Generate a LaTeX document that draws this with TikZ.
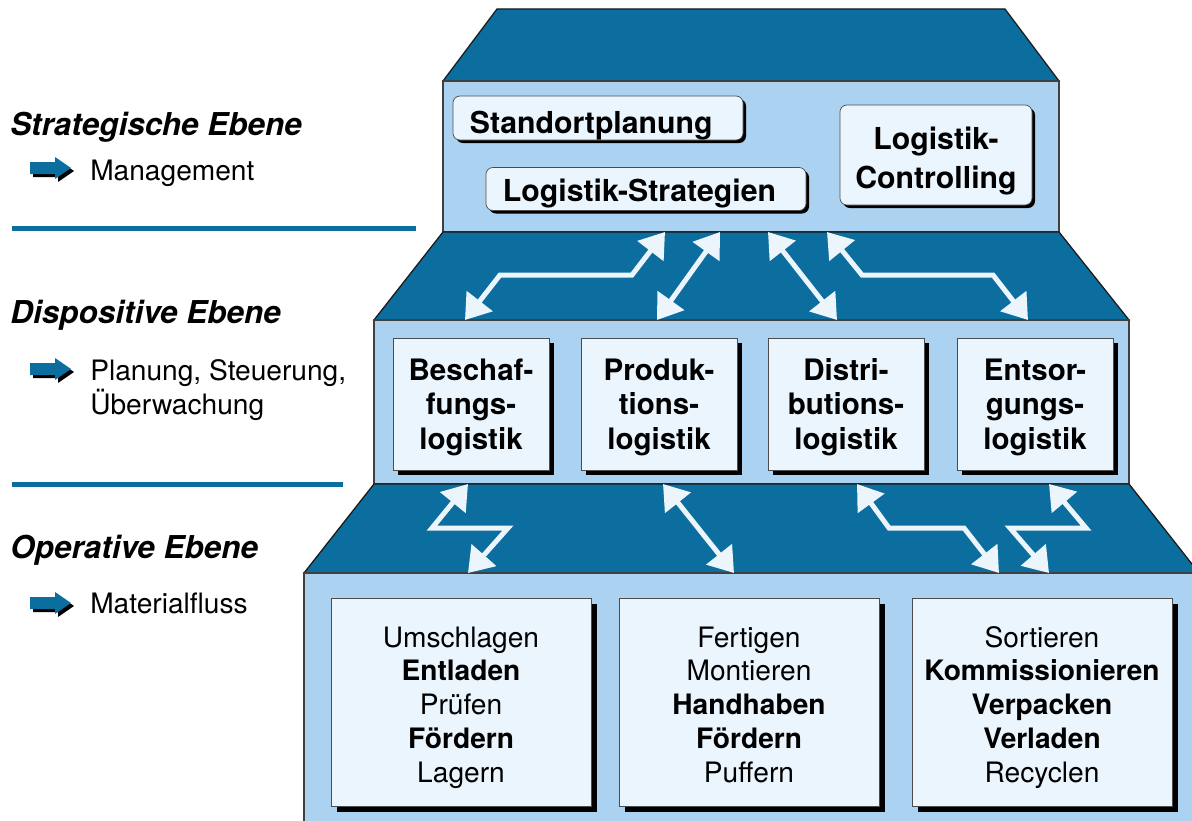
\documentclass[tikz,border=0pt]{standalone}
\usepackage{fontspec}
\setmainfont{TeX Gyre Heros}
\usetikzlibrary{arrows.meta,shadows}

\definecolor{roofblue}{HTML}{0B6E9F}
\definecolor{frontblue}{HTML}{ABD3F1}
\definecolor{boxfill}{HTML}{EBF5FD}
\definecolor{arrowfill}{HTML}{EDF5FC}

\begin{document}
\begin{tikzpicture}[x=0.025cm,y=-0.025cm,
        roof/.style={fill=roofblue,draw=black!90,line width=0.9pt,line join=miter},
        front/.style={fill=frontblue,draw=black!75,line width=0.9pt},
        topbox/.style={rectangle,rounded corners=5pt,fill=boxfill,draw=black!70,line width=0.5pt,
          align=center,font=\fontsize{21.5}{27.5}\selectfont\bfseries,text depth=0pt,
          drop shadow={shadow xshift=0.075cm,shadow yshift=-0.075cm,opacity=1,fill=black}},
        midbox/.style={rectangle,fill=boxfill,draw=black!70,line width=0.5pt,align=center,
          minimum width=3.9cm,minimum height=3.3cm,font=\fontsize{21}{24.5}\selectfont\bfseries,
          text height=2.25cm,text depth=0pt,
          drop shadow={shadow xshift=0.125cm,shadow yshift=-0.125cm,opacity=1,fill=black}},
        opbox/.style={rectangle,fill=boxfill,draw=black!70,line width=0.5pt,align=center,
          minimum width=6.5cm,minimum height=5.2cm,font=\fontsize{20}{24}\selectfont,
          text height=4cm,text depth=0pt,
          drop shadow={shadow xshift=0.15cm,shadow yshift=-0.15cm,opacity=1,fill=black}},
        flowarrow/.style={draw=arrowfill,line width=0.125cm,line join=miter,
          {Triangle[length=0.6cm,width=0.8cm]}-{Triangle[length=0.6cm,width=0.8cm]}},
        levellabel/.style={anchor=base west,inner sep=0,font=\fontsize{22.4}{26}\selectfont\bfseries\itshape},
        leveltext/.style={anchor=base west,inner sep=0,align=left,font=\fontsize{20}{24}\selectfont},
        levelline/.style={draw=roofblue,line width=0.125cm},
        pics/levelarrow/.style={code={
          \foreach \s/\c in {3/black,0/roofblue}
            \fill[\c,shift={(\s,\s)}] (0,-6) -- (25,-6) -- (25,-11) -- (41,0) -- (25,11) -- (25,6) -- (0,6) -- cycle;
        }}]
        \useasboundingbox (0,0) rectangle (1192,821);
        \clip (0,0) rectangle (1192,821);

        % the three levels
        \draw[roof] (497,9) -- (1005,9) -- (1059,81) -- (443,81) -- cycle;
        \draw[front] (443,81) rectangle (1059,232);
        \draw[roof] (443,232) -- (1059,232) -- (1129,320) -- (374,320) -- cycle;
        \draw[front] (374,320) rectangle (1129,484);
        \draw[roof] (374,484) -- (1129,484) -- (1199,573) -- (304,573) -- cycle;
        \draw[front] (304,573) rectangle (1199,830);

        % strategic level
        \node[topbox, align=left, inner xsep=0.425cm, text width=6.4cm, minimum height=1.1cm, text height=0.75cm] (standort) at (598,118) {Standortplanung};
        \node[topbox, align=left, inner xsep=0.425cm, text width=7.15cm, minimum height=1.075cm, text height=0.6cm] (strategie) at (646,189) {Logistik-Strategien};
        \node[topbox, minimum width=4.8cm, minimum height=2.5cm, text height=1.65cm] (controlling) at (936,155) {Logistik-\\Controlling};

        % dispositive level
        \node[midbox] (beschaffung) at (471,404) {Beschaf-\\fungs-\\logistik};
        \node[midbox] (produktion) at (659,404) {Produk-\\tions-\\logistik};
        \node[midbox] (distribution) at (846,404) {Distri-\\butions-\\logistik};
        \node[midbox] (entsorgung) at (1035,404) {Entsor-\\gungs-\\logistik};

        % operative level
        \node[opbox] (umschlag) at (461,702) {Umschlagen\\\textbf{Entladen}\\Prüfen\\\textbf{Fördern}\\Lagern};
        \node[opbox] (fertigung) at (749,702) {Fertigen\\Montieren\\\textbf{Handhaben}\\\textbf{Fördern}\\Puffern};
        \node[opbox] (versand) at (1042,702) {Sortieren\\\textbf{Kommissionieren}\\\textbf{Verpacken}\\\textbf{Verladen}\\Recyclen};

        % arrow ends on the level edges
        \coordinate (s1) at (665,232); \coordinate (d1) at (465,320);
        \coordinate (s2) at (720,232); \coordinate (d2) at (657,320);
        \coordinate (s3) at (768,232); \coordinate (d3) at (837,320);
        \coordinate (s4) at (827,232); \coordinate (d4) at (1028,320);
        \coordinate (t1) at (468,484); \coordinate (o1) at (468,573);
        \coordinate (t2) at (663,484); \coordinate (o2) at (734,573);
        \coordinate (t3) at (857,484); \coordinate (o3) at (999,573);
        \coordinate (t4) at (1049,484); \coordinate (o4) at (1049,573);

        \draw[flowarrow] (s1) -- (632,275) -- (500,275) -- (d1);
        \draw[flowarrow] (s2) -- (d2);
        \draw[flowarrow] (s3) -- (d3);
        \draw[flowarrow] (s4) -- (862,275) -- (993,275) -- (d4);
        \draw[flowarrow] (t1) -- (432,528) -- (508,528) -- (o1);
        \draw[flowarrow] (t2) -- (o2);
        \draw[flowarrow] (t3) -- (889,528) -- (964,528) -- (o3);
        \draw[flowarrow] (t4) -- (1086,528) -- (1010,528) -- (o4);

        % level captions on the left
        \node[levellabel] (strat) at (10,136) {Strategische Ebene};
        \pic at (30,168) {levelarrow};
        \node[leveltext] (mgmt) at (90,180) {Management};
        \path[levelline] (12,228) -- (416,228);

        \node[levellabel] (dispo) at (10,323) {Dispositive Ebene};
        \pic at (30,369) {levelarrow};
        \node[leveltext] (plan) at (90,414) {Planung, Steuerung,\\Überwachung};
        \path[levelline] (12,484) -- (343,484);

        \node[levellabel] (oper) at (10,558) {Operative Ebene};
        \pic at (30,603) {levelarrow};
        \node[leveltext] (material) at (90,613) {Materialfluss};
\end{tikzpicture}
\end{document}
